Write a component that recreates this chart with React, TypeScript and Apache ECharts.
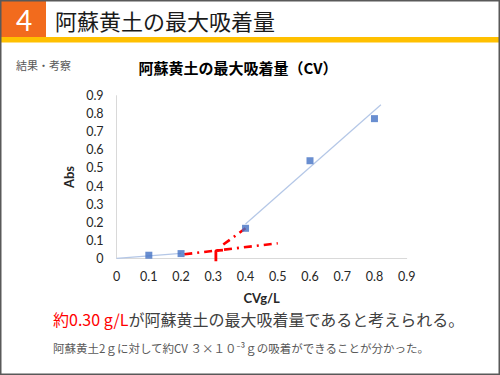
import React, { useEffect, useRef } from "react";
import * as echarts from "echarts";

const concentrations = [0.1, 0.2, 0.4, 0.6, 0.8];
const absValues = [0.017, 0.026, 0.166, 0.54, 0.773];
const trendLow = [[0, 0], [0.2, 0.027]];
const trendHigh = [[0.4, 0.19], [0.82, 0.85]];
const redFlat = [[0.21, 0.022], [0.5, 0.083]];
const redSteep = [[0.331, 0.076], [0.4, 0.166]];
const redMarker = [[0.308, -0.016], [0.308, 0.042], [0.33, 0.045]];

const headerTitle = "阿蘇黄土の最大吸着量";
const chartTitle = "阿蘇黄土の最大吸着量（CV）";
const sectionLabel = "結果・考察";
const conclusionRed = "約0.30 g/L";
const conclusionRest = "が阿蘇黄土の最大吸着量であると考えられる。";
const note = "阿蘇黄土2ｇに対して約CV ３×１０⁻³ｇの吸着ができることが分かった。";

const CJK = '"Noto Sans CJK JP", "Noto Sans", sans-serif';
const LAT = 'Lato, "Noto Sans", sans-serif';

export default function App() {
  const ref = useRef<HTMLDivElement>(null);
  useEffect(() => {
    if (!ref.current) return;
    const chart = echarts.init(ref.current, null, { renderer: "svg" });
    const redStyle = { color: "#FF0000", width: 2.6, type: [8, 5, 2, 5] as number[] };
    chart.setOption({
      animation: false,
      backgroundColor: "#ffffff",
      grid: { left: 116.6, right: 93.3, top: 95.7, bottom: 116.7 },
      xAxis: {
        type: "value",
        min: 0,
        max: 0.9,
        interval: 0.1,
        name: "CVg/L",
        nameLocation: "middle",
        nameGap: 33,
        nameTextStyle: { fontFamily: LAT, fontWeight: "bold", fontSize: 13, color: "#262626", lineHeight: 14 },
        axisLine: { show: true, lineStyle: { color: "#D9D9D9", width: 1 } },
        axisTick: { show: false },
        splitLine: { show: false },
        axisLabel: { fontFamily: LAT, fontSize: 12.5, color: "#262626", margin: 12 },
      },
      yAxis: {
        type: "value",
        min: 0,
        max: 0.9,
        interval: 0.1,
        name: "Abs",
        nameLocation: "middle",
        nameGap: 40,
        nameTextStyle: { fontFamily: LAT, fontWeight: "bold", fontSize: 13, color: "#262626" },
        axisLine: { show: true, lineStyle: { color: "#D9D9D9", width: 1 } },
        axisTick: { show: false },
        splitLine: { show: false },
        axisLabel: { fontFamily: LAT, fontSize: 12.5, color: "#262626", margin: 13 },
      },
      series: [
        { type: "line", data: trendLow, symbol: "none", lineStyle: { color: "#B4C7E7", width: 1.2 }, z: 1 },
        { type: "line", data: trendHigh, symbol: "none", lineStyle: { color: "#B4C7E7", width: 1.2 }, z: 1 },
        { type: "line", data: redFlat, symbol: "none", lineStyle: redStyle, z: 3 },
        { type: "line", data: redSteep, symbol: "none", lineStyle: redStyle, z: 3 },
        { type: "line", data: redMarker, symbol: "none", clip: false, lineStyle: { color: "#FF0000", width: 2.8 }, z: 3 },
        {
          type: "scatter",
          data: concentrations.map((c, i) => [c, absValues[i]]),
          symbol: "rect",
          symbolSize: 7,
          itemStyle: { color: "#4472C4" },
          z: 4,
        },
      ],
      graphic: [
        { type: "rect", shape: { x: 0.75, y: 0.75, width: 498.5, height: 373.5 }, style: { fill: "none", stroke: "#595959", lineWidth: 1.5 }, z: 10 },
        { type: "rect", shape: { x: 1, y: 1, width: 45, height: 36 }, style: { fill: "#F26B1D" } },
        { type: "rect", shape: { x: 1, y: 37, width: 498, height: 5.5 }, style: { fill: "#FFC000" } },
        { type: "text", x: 24, y: 20, style: { text: "4", fill: "#ffffff", font: `28px ${LAT}`, lineHeight: 28, textAlign: "center", textVerticalAlign: "middle" } },
        { type: "text", x: 55, y: 20, style: { text: headerTitle, fill: "#1a1a1a", font: `22px ${CJK}`, lineHeight: 26, textAlign: "left", textVerticalAlign: "middle" } },
        { type: "text", x: 16, y: 65, style: { text: sectionLabel, fill: "#595959", font: `11px ${CJK}`, textAlign: "left", textVerticalAlign: "middle" } },
        { type: "text", x: 238, y: 67, style: { text: chartTitle, fill: "#000000", font: `bold 15px ${CJK}`, textAlign: "center", textVerticalAlign: "middle" } },
        {
          type: "text",
          x: 53,
          y: 319,
          style: {
            text: `{r|${conclusionRed}}{g|${conclusionRest}}`,
            textAlign: "left",
            textVerticalAlign: "middle",
            rich: {
              r: { fill: "#FF0000", font: `16px ${CJK}`, lineHeight: 18 },
              g: { fill: "#404040", font: `16px ${CJK}`, lineHeight: 18 },
            },
          },
        },
        { type: "text", x: 53, y: 348, style: { text: note, fill: "#595959", font: `11.5px ${CJK}`, textAlign: "left", textVerticalAlign: "middle" } },
      ],
    });
    return () => chart.dispose();
  }, []);
  return <div ref={ref} style={{ position: "fixed", left: 0, top: 0, width: 500, height: 375 }} />;
}
